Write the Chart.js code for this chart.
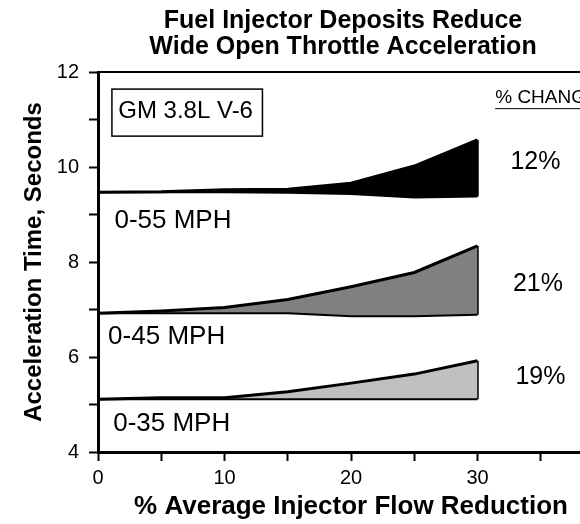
<!DOCTYPE html>
<html>
<head>
<meta charset="utf-8">
<script src="https://cdn.jsdelivr.net/npm/chart.js@4"></script>
<style>
  html, body { margin: 0; padding: 0; background: #fff; overflow: hidden; }
  #wrap { width: 686px; height: 524px; }
</style>
</head>
<body>
<div id="wrap"><canvas id="accelChart" width="686" height="524"></canvas></div>
<script>
// % average injector flow reduction
const reduction = [0, 5, 10, 15, 20, 25, 30];

// acceleration time (seconds) - lower = clean, upper = with deposits
const mph55Lower = [9.47, 9.47, 9.47, 9.46, 9.43, 9.36, 9.38];
const mph55Upper = [9.47, 9.48, 9.52, 9.53, 9.66, 10.02, 10.57];
const mph45Lower = [6.92, 6.92, 6.92, 6.92, 6.86, 6.86, 6.89];
const mph45Upper = [6.92, 6.97, 7.04, 7.21, 7.48, 7.78, 8.34];
const mph35Lower = [5.11, 5.11, 5.11, 5.11, 5.11, 5.11, 5.11];
const mph35Upper = [5.11, 5.14, 5.14, 5.27, 5.45, 5.64, 5.92];

const seriesLabels = ['0-55 MPH', '0-45 MPH', '0-35 MPH'];
const pctChange = ['12%', '21%', '19%'];
const fillColors = ['#000000', '#808080', '#c0c0c0'];
const titleLines = ['Fuel Injector Deposits Reduce', 'Wide Open Throttle Acceleration'];

const FONT = '"Liberation Sans", Arial, Helvetica, sans-serif';

const pts = arr => arr.map((v, i) => ({ x: reduction[i], y: v }));
const last = arr => arr[arr.length - 1];

const bands = [
  [mph55Lower, mph55Upper],
  [mph45Lower, mph45Upper],
  [mph35Lower, mph35Upper]
];

const datasets = [];
bands.forEach(([lo, up], i) => {
  datasets.push({
    label: seriesLabels[i] + ' clean',
    data: pts(lo),
    borderColor: '#000', borderWidth: 2, fill: false
  });
  datasets.push({
    label: seriesLabels[i],
    data: pts(up),
    borderColor: '#000', borderWidth: 3,
    backgroundColor: fillColors[i], fill: '-1'
  });
  // closing edge at the last point
  datasets.push({
    label: seriesLabels[i] + ' edge',
    data: [{ x: last(reduction), y: last(lo) }, { x: last(reduction), y: last(up) }],
    borderColor: '#000', borderWidth: 2.5, fill: false
  });
});

// text placed in data units
const labelPos = [
  { x: 1.3, y: 8.86 },
  { x: 0.8, y: 6.42 },
  { x: 1.2, y: 4.59 }
];
const pctPos = [
  { x: 32.6, y: 10.1 },
  { x: 32.8, y: 7.54 },
  { x: 33.0, y: 5.58 }
];

const notes = {
  id: 'notes',
  afterDraw(chart) {
    const { ctx, chartArea: a, scales: { x, y } } = chart;
    ctx.save();
    ctx.strokeStyle = '#000';
    ctx.fillStyle = '#000';

    // top and right frame
    ctx.lineWidth = 2;
    ctx.beginPath();
    ctx.moveTo(a.left, a.top);
    ctx.lineTo(a.right, a.top);
    ctx.lineTo(a.right, a.bottom);
    ctx.stroke();

    // main title, centred on the full canvas
    ctx.textAlign = 'center';
    ctx.textBaseline = 'middle';
    ctx.font = 'bold 25px ' + FONT;
    titleLines.forEach((t, i) => ctx.fillText(t, chart.width / 2, 21 + i * 26));

    ctx.textAlign = 'left';

    // engine box
    const bx0 = x.getPixelForValue(1.1), bx1 = x.getPixelForValue(13.0);
    const by0 = y.getPixelForValue(11.64), by1 = y.getPixelForValue(10.65);
    ctx.lineWidth = 1.5;
    ctx.strokeRect(bx0, by0, bx1 - bx0, by1 - by0);
    ctx.font = '24px ' + FONT;
    ctx.fillText('GM 3.8L V-6', x.getPixelForValue(1.6), y.getPixelForValue(11.18));

    // % change header
    ctx.font = '19px ' + FONT;
    const hx = x.getPixelForValue(31.4), hy = y.getPixelForValue(11.46);
    ctx.fillText('% CHANGE', hx, hy);
    const w = ctx.measureText('% CHANGE').width;
    ctx.lineWidth = 1;
    ctx.beginPath();
    ctx.moveTo(hx, hy + 11);
    ctx.lineTo(hx + w, hy + 11);
    ctx.stroke();

    ctx.font = '26px ' + FONT;
    seriesLabels.forEach((t, i) => {
      ctx.fillText(t, x.getPixelForValue(labelPos[i].x), y.getPixelForValue(labelPos[i].y));
    });
    ctx.font = '25px ' + FONT;
    pctChange.forEach((t, i) => {
      ctx.fillText(t, x.getPixelForValue(pctPos[i].x), y.getPixelForValue(pctPos[i].y));
    });
    ctx.restore();
  }
};

new Chart(document.getElementById('accelChart'), {
  type: 'line',
  data: { datasets },
  options: {
    responsive: false,
    animation: false,
    devicePixelRatio: 1,
    layout: { padding: { left: 0, right: 82, top: 72, bottom: 0 } },
    elements: { point: { radius: 0 }, line: { tension: 0 } },
    plugins: {
      legend: { display: false },
      tooltip: { enabled: false },
      title: { display: false }
    },
    scales: {
      x: {
        type: 'linear',
        min: 0, max: 40,
        afterFit: s => { s.height = 72; },
        border: { color: '#000', width: 3 },
        grid: { drawOnChartArea: false, color: '#000', tickLength: 9, tickWidth: 2 },
        ticks: {
          stepSize: 5,
          color: '#000',
          padding: 5,
          maxRotation: 0,
          font: { family: FONT, size: 20 },
          callback: v => (v % 10 === 0 ? v : '')
        },
        title: {
          display: true,
          text: '% Average Injector Flow Reduction',
          color: '#000',
          font: { family: FONT, size: 26, weight: 'bold' },
          padding: { top: 0, bottom: 2 }
        }
      },
      y: {
        min: 4, max: 12,
        afterFit: s => { s.width = 98; },
        border: { color: '#000', width: 3 },
        grid: { drawOnChartArea: false, color: '#000', tickLength: 9, tickWidth: 2 },
        ticks: {
          stepSize: 1,
          color: '#000',
          padding: 10,
          font: { family: FONT, size: 20 },
          callback: v => (v % 2 === 0 ? v : '')
        },
        title: {
          display: true,
          text: 'Acceleration Time, Seconds',
          color: '#000',
          font: { family: FONT, size: 24, weight: 'bold' },
          padding: { top: 20, bottom: 0 }
        }
      }
    }
  },
  plugins: [notes]
});
</script>
</body>
</html>
